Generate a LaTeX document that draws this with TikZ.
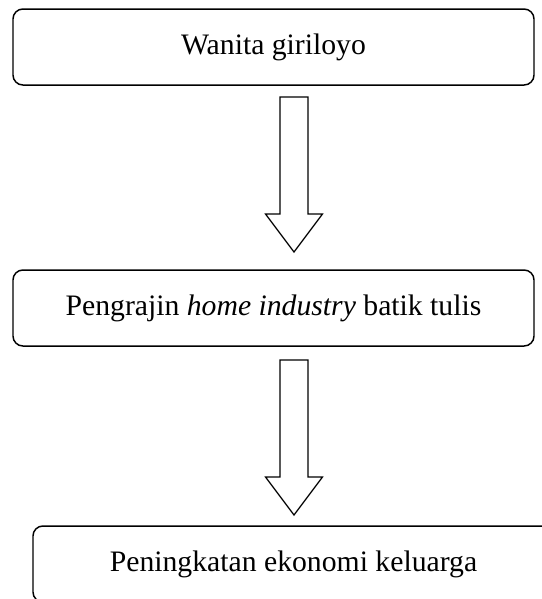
\documentclass[tikz,border=0pt]{standalone}
\usepackage{fontspec}
\setmainfont{Liberation Serif}
\usetikzlibrary{calc}

% outline arrow from shaft top (#1) to tip (#2)
\newcommand{\blockarrow}[2]{%
  \draw[blk] ($(#1)+(-14,0)$) -- ($(#1)+(14,0)$) -- ($(#2)+(14,-38)$)
    -- ($(#2)+(28.5,-38)$) -- (#2) -- ($(#2)+(-28.5,-38)$)
    -- ($(#2)+(-14,-38)$) -- cycle;}

\begin{document}
\begin{tikzpicture}[x=0.404pt,y=-0.404pt]
      \useasboundingbox(0,0) rectangle (542,599);
      \tikzset{B/.style = {draw, rounded corners=4pt, line width=0.6pt,
          minimum width=521*0.404pt, minimum height=76*0.404pt,
          inner sep=0pt, font=\fontsize{12pt}{14pt}\selectfont}}
      \tikzset{blk/.style = {draw, line width=0.5pt, line join=miter}}
      \node[B](wanita) at (273.5,47) {Wanita giriloyo};
      \node[B](pengrajin) at (273.5,308) {Pengrajin \textit{home industry} batik tulis};
      \node[B](ekonomi) at (293.5,564) {Peningkatan ekonomi keluarga};
      \coordinate (a1s) at (294,97);
      \coordinate (a1t) at (294,252);
      \coordinate (a2s) at (294,360);
      \coordinate (a2t) at (294,515);
      \blockarrow{a1s}{a1t}
      \blockarrow{a2s}{a2t}
    \end{tikzpicture}
\end{document}
